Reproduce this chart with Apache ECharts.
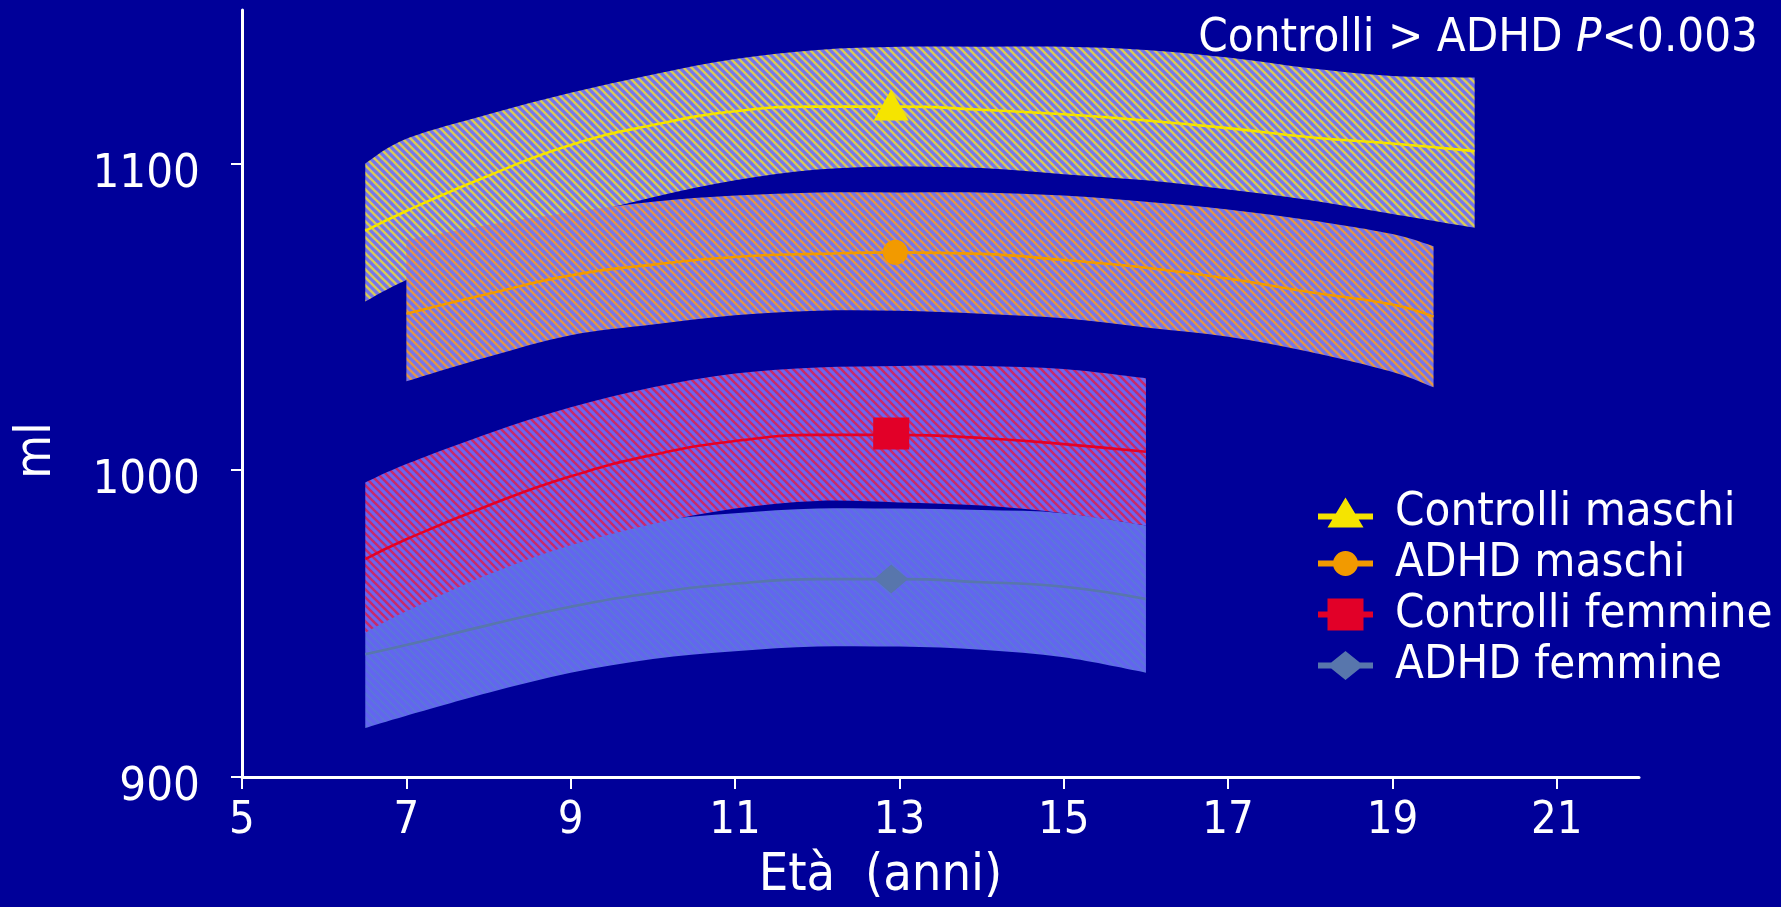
<!DOCTYPE html>
<html>
<head>
<meta charset="utf-8">
<script src="https://cdn.jsdelivr.net/npm/echarts@6/dist/echarts.min.js"></script>
<style>
  html, body { margin: 0; padding: 0; background: #000099; }
  #chart { width: 1781px; height: 907px; }
</style>
</head>
<body>
<div id="chart"></div>
<script>
// Brain volume (ml) by age (years): mean curve and confidence band per group
const X_TICKS = [5, 7, 9, 11, 13, 15, 17, 19, 21];
const Y_TICKS = [900, 1000, 1100];

const SERIES_NAMES = ['Controlli maschi', 'ADHD maschi', 'Controlli femmine', 'ADHD femmine'];

// Controlli maschi
const AGES_CM  = [6.5, 7, 8, 9, 10, 11, 12, 13, 14, 15, 16, 17, 18, 19, 20];
const MEAN_CM  = [1078, 1084.5, 1096, 1106, 1112.5, 1117, 1118.5, 1118.5, 1117.5, 1116, 1114, 1111.5, 1108.5, 1106.5, 1104];
const UPPER_CM = [1100, 1108, 1116, 1123, 1129, 1134, 1137, 1138, 1138, 1138, 1137, 1134.5, 1131, 1128.5, 1128];
const LOWER_CM = [1055, 1062, 1073, 1082, 1089, 1094.5, 1098, 1099, 1098.5, 1096.5, 1094.5, 1091.5, 1088, 1083.5, 1079];

// ADHD maschi
const AGES_AM  = [7, 8, 9, 10, 11, 12, 13, 14, 15, 16, 17, 18, 19, 19.5];
const MEAN_AM  = [1051, 1057.5, 1063.5, 1067, 1069.5, 1070.5, 1071, 1070.5, 1068.5, 1066, 1062.5, 1058, 1054, 1050];
const UPPER_AM = [1075, 1080, 1084, 1087.5, 1089.5, 1090.5, 1090.5, 1090.5, 1089.5, 1087.5, 1085, 1081.5, 1077, 1073];
const LOWER_AM = [1029, 1037, 1044, 1047.5, 1050.5, 1052, 1052, 1051, 1049.5, 1046.5, 1043.5, 1038.5, 1032, 1027];

// Controlli femmine
const AGES_CF  = [6.5, 7, 8, 9, 10, 11, 12, 13, 14, 15, 16];
const MEAN_CF  = [971, 977.5, 988.5, 998, 1005, 1009.5, 1011.5, 1011.5, 1010.5, 1008.5, 1006];
const UPPER_CF = [996, 1002, 1012, 1020.5, 1027, 1031.5, 1033.5, 1034, 1034, 1033, 1030];
const LOWER_CF = [947, 954, 966, 975.5, 982.5, 987.5, 990, 989.5, 988.5, 986, 982];

// ADHD femmine
const AGES_AF  = [6.5, 7, 8, 9, 10, 11, 12, 13, 14, 15, 16];
const MEAN_AF  = [940, 943, 949.5, 955.5, 960, 963, 964.5, 964.5, 963.5, 962, 958];
const UPPER_AF = [963, 966.5, 973, 979, 983.5, 986, 987.5, 987.5, 987, 986, 982];
const LOWER_AF = [916, 920, 927.5, 934, 938.5, 941, 942.5, 942.5, 941.5, 939, 934];

// Highlighted point on each curve
const MARK_AGES   = [12.9, 12.95, 12.9, 12.9];
const MARK_VALUES = [1119, 1071, 1012, 964.5];

const FONT = "'DejaVu Sans Condensed', 'DejaVu Sans', sans-serif";
const WHITE = '#ffffff';

// Diagonal hatch tile used to fill the confidence bands
function hatch(base, stripe, width) {
  const c = document.createElement('canvas');
  c.width = 8; c.height = 8;
  const g = c.getContext('2d');
  g.fillStyle = base;
  g.fillRect(0, 0, 8, 8);
  g.strokeStyle = stripe;
  g.lineWidth = width;
  g.beginPath();
  g.moveTo(-2, -2); g.lineTo(10, 10);
  g.moveTo(-2, 6);  g.lineTo(2, 10);
  g.moveTo(6, -2);  g.lineTo(10, 2);
  g.stroke();
  return { image: c, repeat: 'repeat' };
}

// Smooth curve (Catmull-Rom as cubic Beziers) through pixel points
function curveTo(pts) {
  let d = '';
  for (let i = 0; i < pts.length - 1; i++) {
    const p0 = pts[Math.max(i - 1, 0)], p1 = pts[i], p2 = pts[i + 1], p3 = pts[Math.min(i + 2, pts.length - 1)];
    const c1x = p1[0] + (p2[0] - p0[0]) / 6, c1y = p1[1] + (p2[1] - p0[1]) / 6;
    const c2x = p2[0] - (p3[0] - p1[0]) / 6, c2y = p2[1] - (p3[1] - p1[1]) / 6;
    d += 'C' + c1x + ',' + c1y + ' ' + c2x + ',' + c2y + ' ' + p2[0] + ',' + p2[1];
  }
  return d;
}

const groups = [
  { name: SERIES_NAMES[0], ages: AGES_CM, mean: MEAN_CM, upper: UPPER_CM, lower: LOWER_CM,
    color: '#f5e400', fill: hatch('#7474ee', '#d8ca58', 2.6),
    symbol: 'triangle', size: [35, 31] },
  { name: SERIES_NAMES[1], ages: AGES_AM, mean: MEAN_AM, upper: UPPER_AM, lower: LOWER_AM,
    color: '#f29a00', fill: hatch('#7474ee', '#e0964c', 2.6),
    symbol: 'circle', size: 25 },
  { name: SERIES_NAMES[3], ages: AGES_AF, mean: MEAN_AF, upper: UPPER_AF, lower: LOWER_AF,
    color: '#5876ac', fill: hatch('#6464f2', '#5c74dc', 2.6),
    symbol: 'diamond', size: [34, 29] },
  { name: SERIES_NAMES[2], ages: AGES_CF, mean: MEAN_CF, upper: UPPER_CF, lower: LOWER_CF,
    color: '#e20028', fill: hatch('#6c66f0', '#c82a6c', 2.6),
    symbol: 'rect', size: [36, 32] }
];

const series = [];
// Confidence bands: closed shape from the upper edge back along the lower edge
groups.forEach(function (gr) {
  series.push({
    type: 'custom', name: gr.name + ' IC', silent: true, z: 1,
    data: gr.ages.map(function (a, i) { return [a, gr.lower[i], gr.upper[i]]; }),
    encode: { x: 0, y: [1, 2] },
    renderItem: function (params, api) {
      if (params.dataIndex !== 0) return null;
      const up = gr.ages.map(function (a, i) { return api.coord([a, gr.upper[i]]); });
      const lo = gr.ages.map(function (a, i) { return api.coord([a, gr.lower[i]]); }).reverse();
      const d = 'M' + up[0][0] + ',' + up[0][1] + curveTo(up) +
                'L' + lo[0][0] + ',' + lo[0][1] + curveTo(lo) + 'Z';
      return { type: 'path', shape: { pathData: d }, style: { fill: gr.fill, stroke: null } };
    }
  });
});
// Mean curves and their markers
groups.forEach(function (gr) {
  const idx = SERIES_NAMES.indexOf(gr.name);
  series.push({
    type: 'line', name: gr.name, smooth: true, symbol: 'none', z: 3,
    color: gr.color, lineStyle: { color: gr.color, width: 2.6 },
    data: gr.ages.map(function (a, i) { return [a, gr.mean[i]]; })
  });
  series.push({
    type: 'scatter', name: gr.name, z: 4, symbol: gr.symbol, symbolSize: gr.size,
    itemStyle: { color: gr.color, opacity: 1 },
    data: [[MARK_AGES[idx], MARK_VALUES[idx]]]
  });
});

// Legend icons: short thick line with the group's marker on it
const LEGEND_ICONS = {
  'Controlli maschi': 'path://M0,16L55,16L55,22L0,22Z M27.5,0L45.5,30L9.5,30Z',
  'ADHD maschi': 'path://M0,9.5L55,9.5L55,15.5L0,15.5Z M15,12.5A12.5,12.5 0 1,1 40,12.5A12.5,12.5 0 1,1 15,12.5Z',
  'Controlli femmine': 'path://M0,13L55,13L55,19L0,19Z M9.5,0L45.5,0L45.5,32L9.5,32Z',
  'ADHD femmine': 'path://M0,11.5L55,11.5L55,17.5L0,17.5Z M27.5,0L45.5,14.5L27.5,29L9.5,14.5Z'
};
const LEGEND_COLORS = {
  'Controlli maschi': '#f5e400', 'ADHD maschi': '#f29a00',
  'Controlli femmine': '#e20028', 'ADHD femmine': '#5876ac'
};

const chart = echarts.init(document.getElementById('chart'));
chart.setOption({
  backgroundColor: '#000099',
  animation: false,
  title: {
    text: '{n|Controlli > ADHD }{i|P}{n|<0.003}',
    right: 18, top: 10,
    textStyle: {
      fontWeight: 'normal',
      rich: {
        n: { color: WHITE, fontFamily: FONT, fontSize: 47, fontWeight: 'normal' },
        i: { color: WHITE, fontFamily: FONT, fontSize: 47, fontWeight: 'normal', fontStyle: 'italic' }
      }
    }
  },
  legend: {
    orient: 'vertical', left: 1318, top: 489, padding: 0,
    itemWidth: 55, itemHeight: 36, itemGap: 4, selectedMode: false,
    data: SERIES_NAMES.map(function (n) {
      return { name: n, icon: LEGEND_ICONS[n], itemStyle: { color: LEGEND_COLORS[n] } };
    }),
    textStyle: { color: WHITE, fontFamily: FONT, fontSize: 47, lineHeight: 36, padding: [0, 0, 0, 17] }
  },
  grid: { left: 242, right: 142, top: 10, bottom: 130 },
  xAxis: {
    type: 'value', min: 5, max: 22,
    name: 'Età  (anni)', nameLocation: 'middle', nameGap: 73,
    nameTextStyle: { color: WHITE, fontFamily: FONT, fontSize: 52, padding: [0, 120, 0, 0] },
    axisLine: { lineStyle: { color: WHITE, width: 3 } },
    axisTick: { show: true, length: 12, lineStyle: { color: WHITE, width: 2 }, customValues: X_TICKS },
    axisLabel: { color: WHITE, fontFamily: FONT, fontSize: 45, margin: 22, customValues: X_TICKS,
                 formatter: function (v) { return String(v); } },
    splitLine: { show: false }
  },
  yAxis: {
    type: 'value', min: 900, max: 1150,
    name: 'ml', nameLocation: 'middle', nameGap: 180,
    nameTextStyle: { color: WHITE, fontFamily: FONT, fontSize: 50, padding: [0, 114, 0, 0] },
    axisLine: { show: true, lineStyle: { color: WHITE, width: 3 } },
    axisTick: { show: true, length: 11, lineStyle: { color: WHITE, width: 2 }, customValues: Y_TICKS },
    axisLabel: { color: WHITE, fontFamily: FONT, fontSize: 47, margin: 42, verticalAlign: 'top', lineHeight: 22,
                 customValues: Y_TICKS, formatter: function (v) { return String(v); } },
    splitLine: { show: false }
  },
  series: series
});
</script>
</body>
</html>
